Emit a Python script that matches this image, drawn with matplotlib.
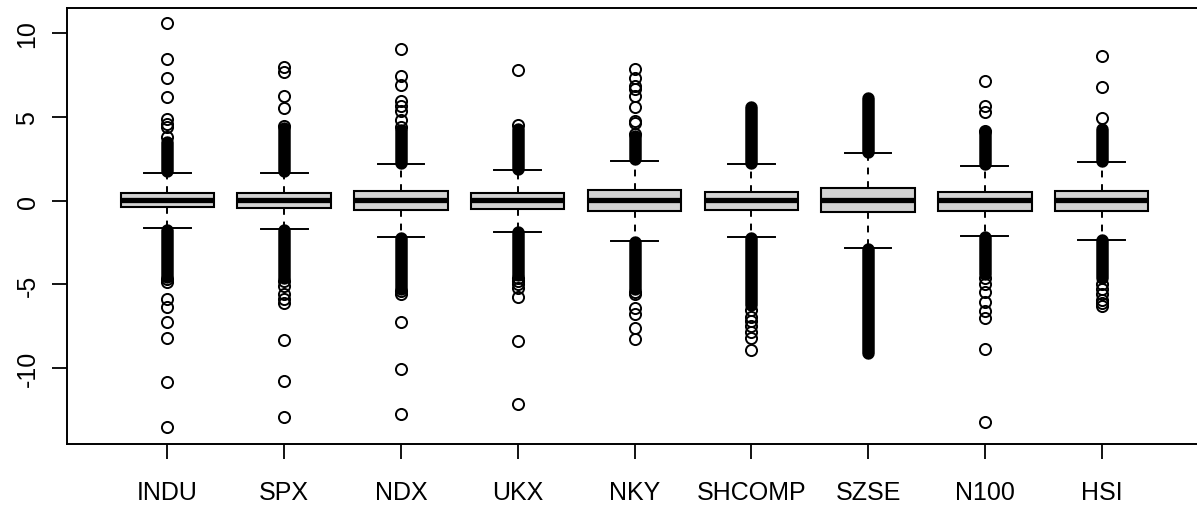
import matplotlib
matplotlib.use("Agg")
import matplotlib.pyplot as plt

plt.rcParams['font.family'] = ['Liberation Sans', 'DejaVu Sans']
plt.rcParams['axes.unicode_minus'] = False

# daily returns (%) by index - box stats
names = ["INDU", "SPX", "NDX", "UKX", "NKY", "SHCOMP", "SZSE", "N100", "HSI"]
med = [0.03, 0.03, 0.06, 0.03, 0.02, 0.04, 0.05, 0.03, 0.03]
q1 = [-0.41, -0.46, -0.57, -0.50, -0.64, -0.57, -0.69, -0.61, -0.64]
q3 = [0.43, 0.43, 0.55, 0.43, 0.63, 0.53, 0.76, 0.49, 0.57]
whislo = [-1.64, -1.68, -2.17, -1.86, -2.39, -2.17, -2.81, -2.12, -2.34]
whishi = [1.64, 1.66, 2.16, 1.82, 2.37, 2.16, 2.85, 2.06, 2.29]

# stretches where the outlier circles pile up into a solid bar
up_runs = [(1.75, 3.5), (1.75, 4.3), (2.25, 4.2), (1.9, 4.25), (2.45, 3.85),
           (2.25, 5.6), (2.9, 6.1), (2.15, 4.1), (2.35, 4.25)]
lo_runs = [(-1.75, -4.55), (-1.75, -4.6), (-2.25, -5.25), (-1.9, -4.45), (-2.45, -5.3),
           (-2.25, -6.2), (-2.9, -9.1), (-2.15, -4.4), (-2.35, -4.6)]

# single outliers outside the solid stretches
up_out = [[3.77, 4.36, 4.56, 4.86, 6.19, 7.3, 8.43, 10.56],
          [4.46, 5.5, 6.21, 7.64, 7.94],
          [4.36, 4.8, 5.35, 5.65, 5.95, 6.88, 7.4, 9.03],
          [4.52, 7.78],
          [3.96, 4.6, 4.76, 5.55, 6.25, 6.64, 6.84, 7.3, 7.84],
          [],
          [],
          [4.16, 5.26, 5.65, 7.14],
          [4.92, 6.78, 8.63]]
lo_out = [[-4.7, -4.88, -5.87, -6.37, -7.26, -8.21, -10.8, -13.52],
          [-4.8, -5.08, -5.57, -5.87, -6.1, -8.3, -10.74, -12.92],
          [-5.4, -5.57, -7.26, -10.04, -12.7],
          [-4.6, -4.8, -5.0, -5.2, -5.77, -8.39, -12.13],
          [-5.45, -5.6, -6.4, -6.75, -7.6, -8.25],
          [-6.5, -6.95, -7.2, -7.5, -7.85, -8.2, -8.9],
          [],
          [-4.6, -4.98, -5.47, -6.07, -6.57, -7.0, -8.85, -13.22],
          [-5.0, -5.3, -5.6, -5.9, -6.1, -6.27]]

fig = plt.figure(figsize=(11.97, 5.06), dpi=100)
ax = fig.add_axes([67/1197, 61/506, 1135/1197, 436.3/506])

stats = []
for i in range(len(names)):
    stats.append(dict(label=names[i], med=med[i], q1=q1[i], q3=q3[i],
                      whislo=whislo[i], whishi=whishi[i], fliers=[]))

pos = list(range(1, len(names) + 1))
ax.bxp(stats, positions=pos, widths=0.8, capwidths=0.4, patch_artist=True,
       showfliers=False,
       boxprops=dict(facecolor='#d3d3d3', edgecolor='black', linewidth=1.5),
       medianprops=dict(color='black', linewidth=3.8, solid_capstyle='butt'),
       whiskerprops=dict(color='black', linewidth=1.4, linestyle=(0, (3.5, 3.5))),
       capprops=dict(color='black', linewidth=1.4))

for i, x in enumerate(pos):
    for lo, hi in (up_runs[i], lo_runs[i]):
        ax.plot([x, x], [lo, hi], color='black', lw=9, solid_capstyle='round', zorder=3)
    pts = up_out[i] + lo_out[i]
    ax.plot([x] * len(pts), pts, 'o', ms=8, mfc='none', mec='black', mew=1.4, zorder=4)

ax.set_xlim(0.14, 9.86)
ax.set_ylim(-14.51, 11.49)
ax.set_yticks([-10, -5, 0, 5, 10])
ax.set_xticks(pos)
ax.set_xticklabels(names)
ax.tick_params(axis='both', length=10.8, width=1.3, labelsize=18, color='black')
ax.tick_params(axis='x', pad=15)
ax.tick_params(axis='y', pad=9)
plt.setp(ax.get_yticklabels(), rotation=90, va='center')
for s in ax.spines.values():
    s.set_linewidth(1.4)

fig.savefig("out.png", dpi=100)
